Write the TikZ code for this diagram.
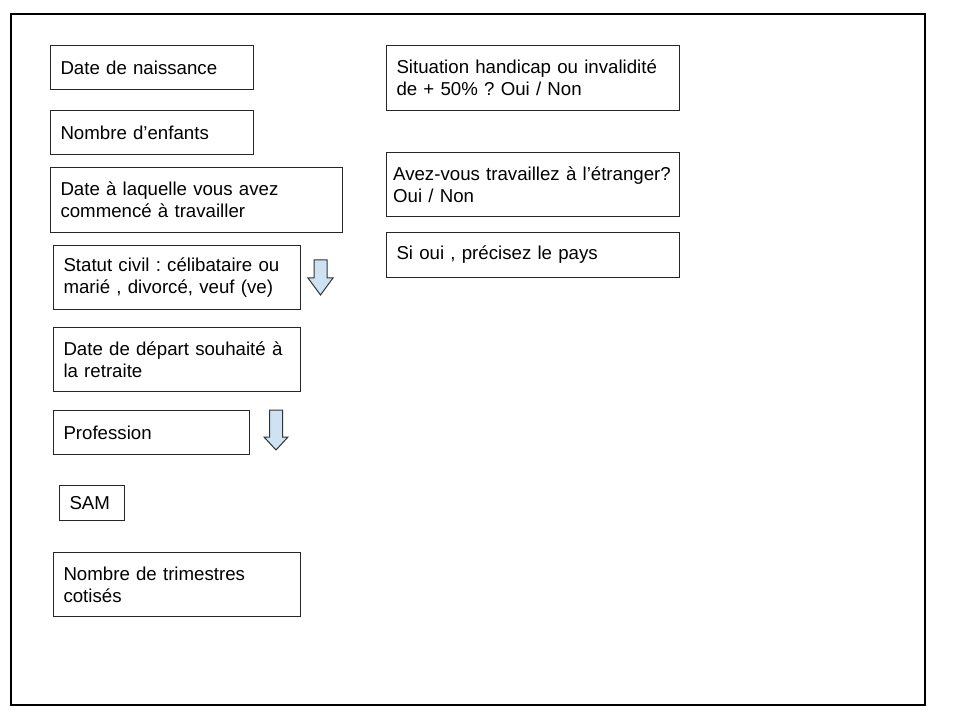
\documentclass[tikz,border=0pt]{standalone}
\usepackage{fontspec}
\setmainfont{Liberation Sans}
\definecolor{bleuclair}{HTML}{CFE2F3}
\frenchspacing
\begin{document}
\begin{tikzpicture}[x=0.75pt, y=-0.75pt,
    champ/.style = {draw=black!85, line width=0.75pt, anchor=north west, align=left,
        inner xsep=7.5pt, inner ysep=0pt, font = {\fontsize{14}{16.5}\selectfont}},
    fleche/.style = {draw=black!80, fill=bleuclair, line width=0.75pt, line join=miter}]
    \useasboundingbox (0,0) rectangle (960,720);
    \draw[line width=0.8pt] (11,14) rectangle (925,705);
    % colonne de gauche
    \node[champ, text width=137.25pt, minimum height=33pt] (naissance) at (50,45) {Date de naissance};
    \node[champ, text width=137.25pt, minimum height=33pt] (enfants) at (50,110) {Nombre d’enfants};
    \node[champ, text width=204pt, minimum height=48.75pt] (debut) at (50,167) {Date à laquelle vous avez\\commencé à travailler};
    \node[champ, text width=170.25pt, minimum height=48pt] (statut) at (53,245) {Statut civil : célibataire ou\\marié , divorcé, veuf (ve)};
    \node[champ, text width=170.25pt, minimum height=48pt] (depart) at (53,327) {Date de départ souhaité à\\la retraite};
    \node[champ, text width=132pt, minimum height=33pt] (profession) at (53,410) {Profession};
    \node[champ, text width=33.75pt, minimum height=26.25pt] (sam) at (59,485) {SAM};
    \node[champ, text width=170.25pt, minimum height=48pt] (trimestres) at (53,552) {Nombre de trimestres\\cotisés};
    % colonne de droite
    \node[champ, text width=204.75pt, minimum height=48.75pt] (handicap) at (386,45) {Situation handicap ou invalidité\\de + 50\% ? Oui / Non};
    \node[champ, text width=209.75pt, inner xsep=5pt, minimum height=48pt] (etranger) at (386,152) {Avez-vous travaillez à l’étranger?\\Oui / Non};
    \node[champ, text width=204.75pt, minimum height=33.75pt] (pays) at (386,232) {Si oui , précisez le pays};
    % fleches
    \filldraw[fleche] (314,260) -- (327,260) -- (327,278) -- (333,278)
            -- (320.5,295) -- (308,278) -- (314,278) -- cycle;
    \filldraw[fleche] (269.5,410) -- (282.5,410) -- (282.5,437) -- (288,437)
            -- (276,450) -- (264,437) -- (269.5,437) -- cycle;
\end{tikzpicture}
\end{document}
